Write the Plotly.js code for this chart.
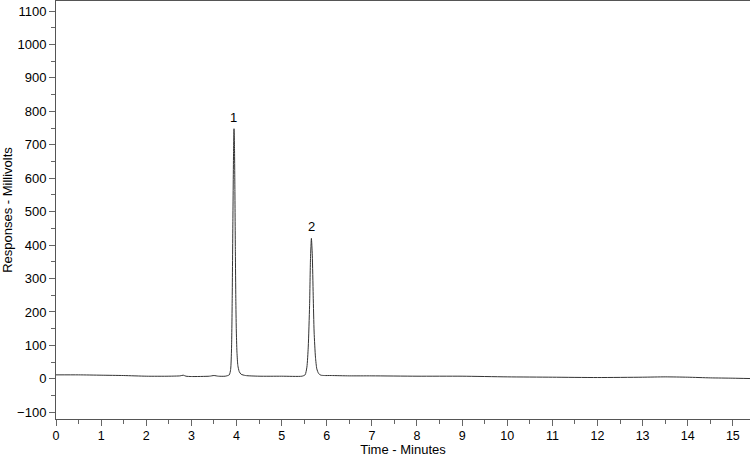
<!DOCTYPE html>
<html>
<head>
<meta charset="utf-8">
<script src="https://cdn.plot.ly/plotly-3.0.1.min.js"></script>
<style>
  html, body { margin: 0; padding: 0; background: #fff; }
  #chart { width: 750px; height: 457px; }
</style>
</head>
<body>
<div id="chart"></div>
<script>
// retention time (minutes) and detector response (mV)
const timeMin = [
  0, 0.5, 1.0, 1.5, 2.0, 2.5, 2.75, 2.82, 2.88, 3.0, 3.4, 3.5, 3.6, 3.75,
  3.84, 3.87, 3.89, 3.905, 3.92, 3.935, 3.945, 3.955, 3.965, 3.975, 3.985,
  3.995, 4.01, 4.03, 4.06, 4.1, 4.2, 4.5, 5.0, 5.45,
  5.52, 5.56, 5.59, 5.62, 5.64, 5.66, 5.68, 5.70, 5.72, 5.75, 5.78, 5.82,
  5.87, 5.95, 6.1, 6.5, 7.0, 8.0, 9.0, 10.0, 11.0, 12.0, 13.0, 13.5, 14.0,
  14.5, 15.0, 15.38
];
const responseMv = [
  12, 12, 11, 10, 8, 8, 9, 11, 8, 7, 8, 10, 8, 8,
  12, 28, 90, 240, 470, 680, 748, 700, 560, 380, 240,
  150, 80, 40, 22, 14, 10, 8, 8, 8,
  12, 35, 95, 220, 360, 420, 370, 250, 140, 65, 30, 16,
  11, 10, 10, 9, 9, 8, 8, 6, 5, 4, 5, 6, 5,
  3, 2, 1
];

// peak numbers printed above the apexes
const peakLabels = ["1", "2"];
const peakTimes = [3.94, 5.66];
const peakHeights = [748, 420];

const trace = {
  x: timeMin,
  y: responseMv,
  type: "scatter",
  mode: "lines",
  line: { color: "#333", width: 1, shape: "spline", smoothing: 0.6 },
  hoverinfo: "x+y",
};

const annotations = peakLabels.map((t, i) => ({
  x: peakTimes[i],
  y: peakHeights[i],
  text: t,
  showarrow: false,
  yanchor: "bottom",
  yshift: 2,
  font: { size: 13, color: "#000" },
}));

const axisFont = { family: "Liberation Sans, Arial, sans-serif", size: 13, color: "#000" };
const xTickFont = { family: "Liberation Sans, Arial, sans-serif", size: 12.5, color: "#000" };

const layout = {
  width: 750,
  height: 457,
  margin: { l: 56, r: 0, t: 1, b: 38 },
  paper_bgcolor: "#fff",
  plot_bgcolor: "#fff",
  showlegend: false,
  font: axisFont,
  xaxis: {
    range: [0, 15.38],
    dtick: 1,
    tick0: 0,
    ticks: "outside",
    ticklen: 6,
    tickcolor: "#666",
    ticklabelstandoff: -1,
    showline: true,
    linecolor: "#555",
    mirror: true,
    showgrid: false,
    zeroline: false,
    tickfont: xTickFont,
    minor: { dtick: 0.5, ticks: "outside", ticklen: 4, tickcolor: "#666", showgrid: false },
    title: { text: "Time - Minutes", font: axisFont, standoff: 6 },
  },
  yaxis: {
    range: [-120, 1130],
    dtick: 100,
    tick0: 0,
    ticks: "outside",
    ticklen: 6,
    tickcolor: "#666",
    showline: true,
    linecolor: "#555",
    showgrid: false,
    zeroline: false,
    tickfont: axisFont,
    minor: { dtick: 50, ticks: "outside", ticklen: 4, tickcolor: "#666", showgrid: false },
    title: { text: "Responses - Millivolts", font: axisFont, standoff: 4 },
  },
  annotations: annotations,
};

Plotly.newPlot("chart", [trace], layout, { displayModeBar: false, staticPlot: true });
</script>
</body>
</html>
